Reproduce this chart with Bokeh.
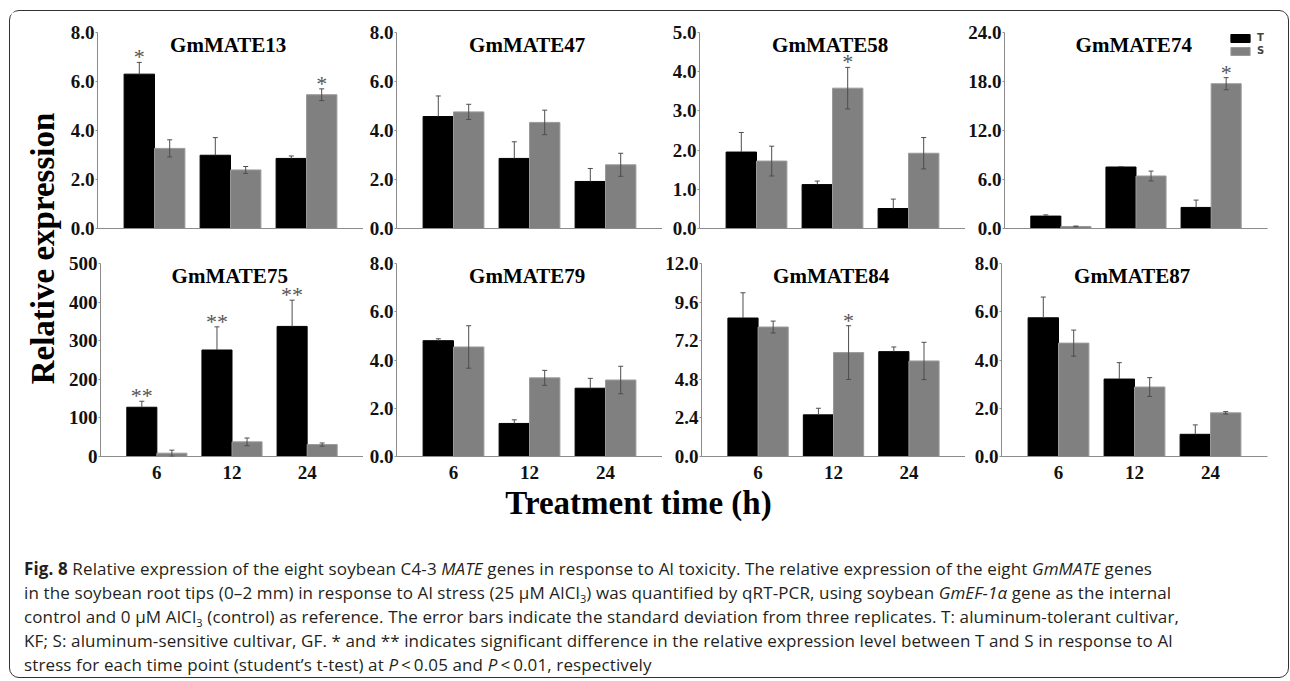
import numpy as np
from bokeh.plotting import figure
from bokeh.models import (ColumnDataSource, Range1d, FixedTicker, PrintfTickFormatter,
                          Whisker, TeeHead, Label, Div, Legend, LegendItem)
from bokeh.layouts import row, column
from bokeh.embed import file_html
from bokeh.resources import INLINE
from bokeh.core.properties import value

# ---------------- data ----------------
times = ["6", "12", "24"]
genes = ["GmMATE13", "GmMATE47", "GmMATE58", "GmMATE74",
         "GmMATE75", "GmMATE79", "GmMATE84", "GmMATE87"]

mate13_T = [6.30, 2.99, 2.86]
mate13_T_sd = [0.48, 0.72, 0.10]
mate13_S = [3.27, 2.39, 5.46]
mate13_S_sd = [0.35, 0.14, 0.24]
mate13_sig_T = ["*", "", ""]
mate13_sig_S = ["", "", "*"]

mate47_T = [4.57, 2.86, 1.92]
mate47_T_sd = [0.84, 0.68, 0.53]
mate47_S = [4.76, 4.33, 2.60]
mate47_S_sd = [0.31, 0.50, 0.47]
mate47_sig_T = ["", "", ""]
mate47_sig_S = ["", "", ""]

mate58_T = [1.95, 1.12, 0.51]
mate58_T_sd = [0.50, 0.09, 0.24]
mate58_S = [1.72, 3.58, 1.92]
mate58_S_sd = [0.38, 0.53, 0.40]
mate58_sig_T = ["", "", ""]
mate58_sig_S = ["", "*", ""]

mate74_T = [1.52, 7.53, 2.58]
mate74_T_sd = [0.15, 0.05, 0.90]
mate74_S = [0.25, 6.43, 17.73]
mate74_S_sd = [0.05, 0.60, 0.74]
mate74_sig_T = ["", "", ""]
mate74_sig_S = ["", "", "*"]

mate75_T = [127.6, 275.9, 337.0]
mate75_T_sd = [15.5, 60.0, 68.0]
mate75_S = [8.6, 37.9, 31.0]
mate75_S_sd = [7.8, 10.0, 4.0]
mate75_sig_T = ["**", "**", "**"]
mate75_sig_S = ["", "", ""]

mate79_T = [4.80, 1.37, 2.83]
mate79_T_sd = [0.08, 0.15, 0.41]
mate79_S = [4.54, 3.26, 3.17]
mate79_S_sd = [0.88, 0.31, 0.57]
mate79_sig_T = ["", "", ""]
mate79_sig_S = ["", "", ""]

mate84_T = [8.61, 2.59, 6.52]
mate84_T_sd = [1.57, 0.41, 0.29]
mate84_S = [8.05, 6.46, 5.94]
mate84_S_sd = [0.37, 1.67, 1.16]
mate84_sig_T = ["", "", ""]
mate84_sig_S = ["", "*", ""]

mate87_T = [5.75, 3.21, 0.92]
mate87_T_sd = [0.86, 0.68, 0.39]
mate87_S = [4.70, 2.88, 1.81]
mate87_S_sd = [0.54, 0.39, 0.05]
mate87_sig_T = ["", "", ""]
mate87_sig_S = ["", "", ""]

y_max = [8, 8, 5, 24, 500, 8, 12, 8]
y_step = [2, 2, 1, 6, 100, 2, 2.4, 2]
y_fmt = ["%.1f", "%.1f", "%.1f", "%.1f", "%d", "%.1f", "%.1f", "%.1f"]

caption_lines = [
    "<b>Fig. 8</b> Relative expression of the eight soybean C4-3 <i>MATE</i> genes in response to Al toxicity. The relative expression of the eight <i>GmMATE</i> genes",
    "in the soybean root tips (0–2 mm) in response to Al stress (25 µM AlCl<sub>3</sub>) was quantified by qRT-PCR, using soybean <i>GmEF-1α</i> gene as the internal",
    "control and 0 µM AlCl<sub>3</sub> (control) as reference. The error bars indicate the standard deviation from three replicates. T: aluminum-tolerant cultivar,",
    "KF; S: aluminum-sensitive cultivar, GF. * and ** indicates significant difference in the relative expression level between T and S in response to Al",
    "stress for each time point (student’s t-test) at <i>P</i>&thinsp;&lt;&thinsp;0.05 and <i>P</i>&thinsp;&lt;&thinsp;0.01, respectively",
]

# ---------------- style ----------------
SERIF = "Liberation Serif"
AXIS_GREY = "#8c8c8c"
T_COLOR = "#000000"
S_COLOR = "#808080"
ERR_COLOR = "#4d4d4d"
FRAME_W = 266
COL_LEFT = [32, 33, 37, 36]
COL_RIGHT = [0, 0, 0, 18]


def make_panel(idx, gene, T, T_sd, S, S_sd, sig_T, sig_S, bottom_row, with_legend):
    col = idx % 4
    fh = 193 if bottom_row else 196
    top = 25 if bottom_row else 20
    bot = 26 if bottom_row else 10
    p = figure(width=COL_LEFT[col] + FRAME_W + COL_RIGHT[col], height=top + fh + bot,
               x_range=Range1d(0.25, 3.75), y_range=Range1d(0, y_max[idx]),
               min_border_left=COL_LEFT[col], min_border_right=COL_RIGHT[col],
               min_border_top=top, min_border_bottom=bot,
               toolbar_location=None, output_backend="svg",
               background_fill_color="white", border_fill_color="white",
               outline_line_color=None)
    p.grid.visible = False

    xs = np.arange(1, len(times) + 1)
    T = np.array(T, dtype=float)
    S = np.array(S, dtype=float)
    T_sd = np.array(T_sd, dtype=float)
    S_sd = np.array(S_sd, dtype=float)
    srcT = ColumnDataSource(dict(x=xs - 0.2, top=T, upper=T + T_sd, lower=T, sig=sig_T))
    srcS = ColumnDataSource(dict(x=xs + 0.2, top=S, upper=S + S_sd, lower=S - S_sd, sig=sig_S))

    rT = p.vbar(x="x", top="top", width=0.4, source=srcT,
                fill_color=T_COLOR, line_color=T_COLOR, line_width=1)
    rS = p.vbar(x="x", top="top", width=0.4, source=srcS,
                fill_color=S_COLOR, line_color="#9a9a9a", line_width=1)

    p.add_layout(Whisker(source=srcT, base="x", upper="upper", lower="lower",
                         line_color=ERR_COLOR, line_width=1, level="overlay",
                         upper_head=TeeHead(size=5, line_color=ERR_COLOR, line_width=1),
                         lower_head=None))
    p.add_layout(Whisker(source=srcS, base="x", upper="upper", lower="lower",
                         line_color=ERR_COLOR, line_width=1, level="overlay",
                         upper_head=TeeHead(size=5, line_color=ERR_COLOR, line_width=1),
                         lower_head=TeeHead(size=5, line_color=ERR_COLOR, line_width=1)))

    for src in (srcT, srcS):
        p.text(x="x", y="upper", text="sig", source=src, text_align="center",
               text_baseline="bottom", y_offset=7,
               text_font=value(SERIF), text_font_size="22px", text_color="#555555")

    p.add_layout(Label(x=1.97, y=y_max[idx], text=gene, text_align="center",
                       text_baseline="top", y_offset=0, text_font=SERIF,
                       text_font_style="bold", text_font_size="21px", text_color="black"))

    # y axis
    ticks = [round(v, 4) for v in np.arange(0, y_max[idx] + y_step[idx] / 2, y_step[idx])]
    p.yaxis.ticker = FixedTicker(ticks=ticks)
    p.yaxis.formatter = PrintfTickFormatter(format=y_fmt[idx])
    p.yaxis.axis_line_color = AXIS_GREY
    p.yaxis.major_tick_line_color = AXIS_GREY
    p.yaxis.major_tick_out = 2
    p.yaxis.major_tick_in = 0
    p.yaxis.minor_tick_line_color = None
    p.yaxis.major_label_standoff = 1
    p.yaxis.major_label_text_font = SERIF
    p.yaxis.major_label_text_font_style = "bold"
    p.yaxis.major_label_text_font_size = "19px"
    p.yaxis.major_label_text_color = "#111111"

    # x axis
    p.xaxis.ticker = FixedTicker(ticks=list(xs))
    if bottom_row:
        p.xaxis.major_label_overrides = {int(x): t for x, t in zip(xs, times)}
    else:
        p.xaxis.major_label_overrides = {int(x): "" for x in xs}
    p.xaxis.axis_line_color = AXIS_GREY
    p.xaxis.major_tick_line_color = None
    p.xaxis.minor_tick_line_color = None
    p.xaxis.major_label_standoff = 3
    p.xaxis.major_label_text_font = SERIF
    p.xaxis.major_label_text_font_style = "bold"
    p.xaxis.major_label_text_font_size = "19px"
    p.xaxis.major_label_text_color = "#111111"

    if with_legend:
        legend = Legend(items=[LegendItem(label="T", renderers=[rT]),
                               LegendItem(label="S", renderers=[rS])],
                        location=(224, 172), orientation="vertical",
                        glyph_width=24, glyph_height=10, label_height=10,
                        label_width=10, label_standoff=5, spacing=2, padding=0, margin=0,
                        border_line_color=None, background_fill_alpha=0,
                        label_text_font="DejaVu Sans", label_text_font_style="bold",
                        label_text_font_size="10px")
        p.add_layout(legend)
    return p


panel_data = [
    (mate13_T, mate13_T_sd, mate13_S, mate13_S_sd, mate13_sig_T, mate13_sig_S),
    (mate47_T, mate47_T_sd, mate47_S, mate47_S_sd, mate47_sig_T, mate47_sig_S),
    (mate58_T, mate58_T_sd, mate58_S, mate58_S_sd, mate58_sig_T, mate58_sig_S),
    (mate74_T, mate74_T_sd, mate74_S, mate74_S_sd, mate74_sig_T, mate74_sig_S),
    (mate75_T, mate75_T_sd, mate75_S, mate75_S_sd, mate75_sig_T, mate75_sig_S),
    (mate79_T, mate79_T_sd, mate79_S, mate79_S_sd, mate79_sig_T, mate79_sig_S),
    (mate84_T, mate84_T_sd, mate84_S, mate84_S_sd, mate84_sig_T, mate84_sig_S),
    (mate87_T, mate87_T_sd, mate87_S, mate87_S_sd, mate87_sig_T, mate87_sig_S),
]

panels = []
for i, (gene, d) in enumerate(zip(genes, panel_data)):
    panels.append(make_panel(i, gene, *d, bottom_row=(i >= 4), with_legend=(i == 3)))

grid = column(row(*panels[:4]), row(*panels[4:]))


def blank_fig(w, h):
    f = figure(width=w, height=h, x_range=Range1d(0, 1), y_range=Range1d(0, 1),
               toolbar_location=None, output_backend="svg", x_axis_type=None,
               y_axis_type=None, outline_line_color=None, min_border=0,
               background_fill_color="white", border_fill_color="white")
    f.grid.visible = False
    return f


ylab = blank_fig(54, 470)
ylab.add_layout(Label(x=0.5, y=0.5, x_offset=4, y_offset=-1, text="Relative expression",
                      angle=np.pi / 2, text_align="center", text_baseline="middle",
                      text_font=SERIF, text_font_style="bold", text_font_size="33px",
                      text_color="black"))

xlab = blank_fig(1274, 49)
xlab.add_layout(Label(x=0.5, y=0.5, x_offset=-10, y_offset=4, text="Treatment time (h)",
                      text_align="center", text_baseline="middle", text_font=SERIF,
                      text_font_style="bold", text_font_size="33px", text_color="black"))

cap_html = ('<div style="font-family:\'Open Sans\'; font-size:17px; letter-spacing:0.12px; '
            'line-height:24px; color:#231f20; white-space:nowrap; padding-left:8px; '
            'padding-top:21px;">'
            + "<br>".join(caption_lines).replace(
                "<sub>", '<sub style="font-size:11px; line-height:0;">')
            + "</div>")
caption = Div(text=cap_html, width=1274, height=140)

page = column(row(ylab, grid), xlab, caption, width=1280, height=668,
              margin=(10, 0, 0, 9),
              styles={"border": "1px solid #333333", "border-radius": "10px",
                      "background": "white", "box-sizing": "border-box",
                      "padding": "1px"})

open("out.html", "w").write(file_html(page, INLINE))
